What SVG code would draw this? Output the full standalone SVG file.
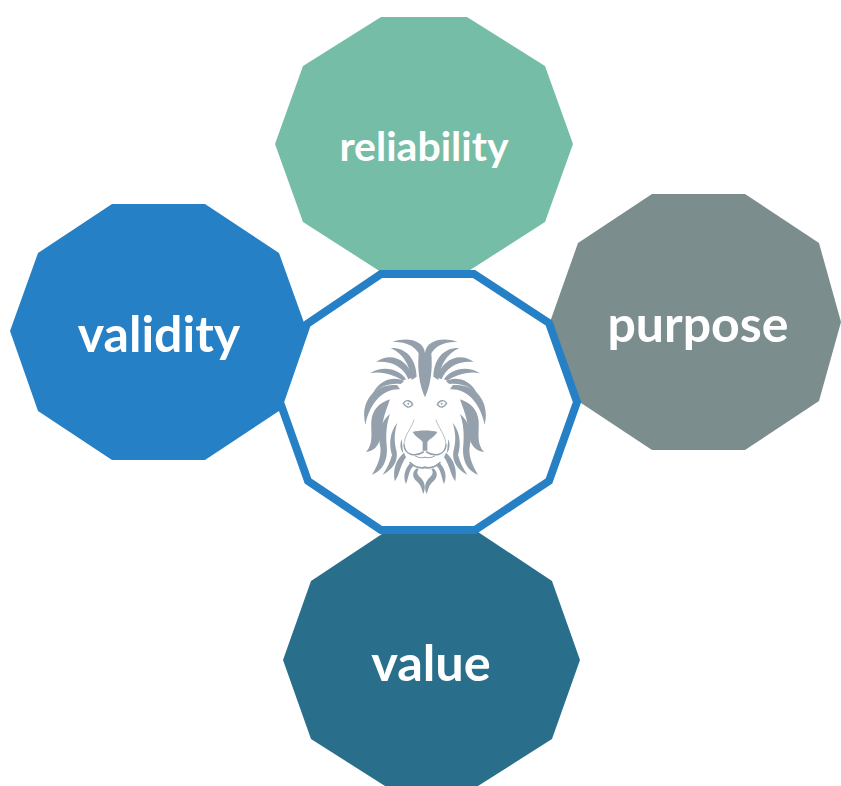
<svg xmlns="http://www.w3.org/2000/svg" xmlns:xlink="http://www.w3.org/1999/xlink" width="841" height="786" viewBox="0 0 841 786">
<style>
text{font-family:Lato,Carlito,"Open Sans",sans-serif;font-weight:700;fill:#fff;text-anchor:middle}
.h{fill:#94a0ab;stroke:none}
.l{fill:none;stroke:#94a0ab;stroke-linecap:round}
</style>
<defs>
<filter id="soft" x="-5%" y="-5%" width="110%" height="110%"><feGaussianBlur stdDeviation="0.4"/></filter>
<g id="half">
<path class="h" d="M255 232C238 195 232 150 236 100C222 76 195 64 158 66C200 50 252 60 255 100Z"/>
<path class="h" d="M215 180C208 135 192 102 152 84C195 82 228 112 230 170Z"/>
<path class="h" d="M205 178C192 145 160 122 108 126C150 94 205 118 218 172Z"/>
<path class="h" d="M188 182C165 166 125 152 90 160C130 134 180 148 198 178Z"/>
<path class="h" d="M182 192C150 188 120 198 98 222C122 172 170 170 192 184Z"/>
<path class="h" d="M180 208C135 205 92 240 76 314C60 250 100 188 172 196Z"/>
<path class="h" d="M150 238C118 248 98 268 94 302C92 335 102 370 78 396C122 392 124 345 128 310C132 285 142 262 150 238Z"/>
<path class="h" d="M150 282C122 305 112 340 120 375C125 398 120 425 96 464C134 450 144 412 140 375C137 340 140 310 150 282Z"/>
<path class="h" d="M172 308C150 335 146 370 156 405C150 428 140 446 128 464C158 448 174 425 170 395C162 365 162 340 172 308Z"/>
<path class="h" d="M192 398C168 420 158 445 164 484C178 468 180 436 198 412Z"/>
<path class="h" d="M212 428C194 445 188 470 198 492C206 472 206 452 220 438Z"/>
<path class="h" d="M230 445C216 456 216 472 230 484C244 496 244 506 250 522C260 500 252 482 240 472C230 462 230 455 236 448Z"/>
<path class="h" d="M185 358C178 375 182 392 190 400C187 385 187 372 185 358Z"/>
<path class="l" stroke-width="4" d="M190 250C198 238 212 240 218 254C206 266 198 262 190 250Z"/>
<circle class="h" cx="205" cy="251" r="3"/>
<path class="l" stroke-width="2" d="M222 300C215 325 192 345 192 375"/>
<path class="l" stroke-width="4.5" d="M192 375C195 405 225 412 250 396"/>
<path class="l" stroke-width="5" d="M210 428C225 442 240 446 255 442"/>
<path class="l" stroke-width="3" d="M226 408C236 414 246 414 255 412"/>
</g>
</defs>
<g id="connectors"/>
<g id="node-reliability">
<polygon fill="#76bda7" points="381,17 467,17 545,66 573,144 545,222 467,272 381,272 303,222 275,144 303,66"/>
<text x="424" y="161" font-size="41">reliability</text>
</g>
<g id="node-purpose">
<polygon fill="#7c8d8e" points="652,194 745,194 819,243 841,322 819,401 745,450 652,450 578,401 550,322 578,243"/>
<text x="698" y="342" font-size="50">purpose</text>
</g>
<g id="node-value">
<polygon fill="#296f8c" points="385,532 478,532 552,581 580,660 552,739 478,786 385,786 311,739 283,660 311,581"/>
<text x="431" y="681" font-size="50.5">value</text>
</g>
<g id="node-center">
<polygon fill="#fff" stroke="#2680c6" stroke-width="8" points="381,274 474,274 549,323 577,402 549,481 475,530 381,530 308,481 280,402 307,324"/>
<g id="lion" transform="translate(340 320) scale(.33333)" filter="url(#soft)">
<use xlink:href="#half" href="#half"/>
<use xlink:href="#half" href="#half" transform="translate(510 0) scale(-1 1)"/>
<path class="h" d="M218 336C235 330 275 330 292 336C285 350 270 355 262 366L262 392L248 392L248 366C240 355 225 350 218 336Z"/>
</g>
</g>
<g id="node-validity">
<polygon fill="#2680c6" points="112,204 205,204 279,253 307,331 279,411 205,460 112,460 38,411 10,331 38,253"/>
<text x="159" y="352" font-size="50">validity</text>
</g>
</svg>
